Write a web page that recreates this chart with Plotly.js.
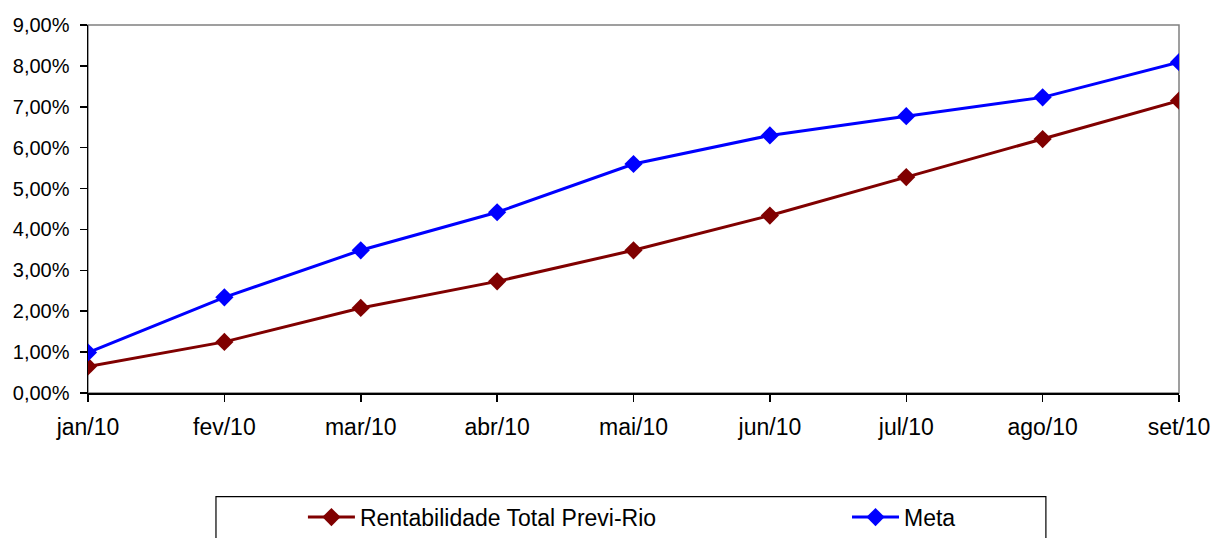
<!DOCTYPE html>
<html>
<head>
<meta charset="utf-8">
<script src="https://cdn.plot.ly/plotly-3.0.1.min.js"></script>
<style>html,body{margin:0;padding:0;background:#fff;}#chart{width:1212px;height:538px;}</style>
</head>
<body>
<div id="chart"></div>
<script>
const months = ["jan/10","fev/10","mar/10","abr/10","mai/10","jun/10","jul/10","ago/10","set/10"];
const rentabilidade = [0.65, 1.25, 2.08, 2.73, 3.49, 4.34, 5.28, 6.21, 7.15];
const meta = [0.99, 2.34, 3.49, 4.42, 5.60, 6.30, 6.77, 7.23, 8.09];
const yTicks = [0,1,2,3,4,5,6,7,8,9];
const yTickText = yTicks.map(v => v.toFixed(2).replace(".", ",") + "%");

const font = "Liberation Sans, Arial, sans-serif";
const traces = [
  {x: months, y: rentabilidade, name: "Rentabilidade Total Previ-Rio", type: "scatter", mode: "lines+markers",
   line: {color: "#800000", width: 3}, marker: {symbol: "diamond", size: 14, color: "#800000"}, legend: "legend"},
  {x: months, y: meta, name: "Meta", type: "scatter", mode: "lines+markers",
   line: {color: "#0000FF", width: 3}, marker: {symbol: "diamond", size: 14, color: "#0000FF"}, legend: "legend2"}
];
const legendBase = {orientation: "h", xanchor: "left", y: -0.279, yanchor: "top",
    bgcolor: "rgba(0,0,0,0)", borderwidth: 0, itemwidth: 47, itemclick: false,
    font: {size: 23, family: font}};
const layout = {
  width: 1212, height: 538,
  margin: {l: 88, r: 33, t: 25, b: 145, autoexpand: false},
  paper_bgcolor: "#fff", plot_bgcolor: "#fff",
  separators: ",.",
  font: {family: font, color: "#000"},
  showlegend: true,
  xaxis: {type: "category", range: [0, 8], showgrid: false, zeroline: false,
    showline: true, linecolor: "#000", linewidth: 1.5,
    ticks: "outside", ticklen: 7, tickcolor: "#000", tickwidth: 1.5,
    tickfont: {size: 23, family: font}, ticklabelstandoff: 6},
  yaxis: {range: [0, 9], tickvals: yTicks, ticktext: yTickText,
    showgrid: false, zeroline: false, showline: true, linecolor: "#000", linewidth: 1.5,
    ticks: "outside", ticklen: 7, tickcolor: "#000", tickwidth: 1.5,
    tickfont: {size: 20, family: font}, ticklabelstandoff: 6},
  legend: Object.assign({}, legendBase, {x: 0.197}),
  legend2: Object.assign({}, legendBase, {x: 0.6957}),
  shapes: [
    {type: "rect", xref: "paper", yref: "paper", x0: 0, x1: 1, y0: 0, y1: 1,
     line: {color: "#808080", width: 1.5}, layer: "below"},
    {type: "rect", xref: "paper", yref: "paper", x0: 0.1173, x1: 0.878, y0: -0.2816, y1: -0.46,
     line: {color: "#000", width: 1.2}, layer: "below"}
  ]
};
Plotly.newPlot("chart", traces, layout, {displayModeBar: false, staticPlot: true});
</script>
</body>
</html>
